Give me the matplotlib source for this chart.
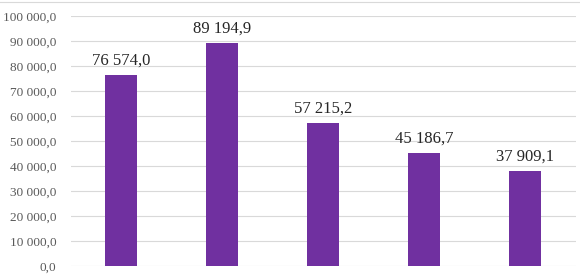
import matplotlib.pyplot as plt
import numpy as np

categories = ['1', '2', '3', '4', '5']
values = [76574.0, 89194.9, 57215.2, 45186.7, 37909.1]
yticks = [0, 10000, 20000, 30000, 40000, 50000, 60000, 70000, 80000, 90000, 100000]


def fmt(v):
    # 76574.0 -> "76 574,0"
    s = '{:,.1f}'.format(v)
    return s.replace(',', ' ').replace('.', ',')


plt.rcParams['font.family'] = ['Liberation Serif', 'DejaVu Serif']

fig = plt.figure(figsize=(5.8, 2.74), dpi=100)
ax = fig.add_axes([70.5 / 580, 8 / 274, 505 / 580, 250 / 274])

x = np.arange(len(categories))
bars = ax.bar(x, values, width=0.31, color='#7030A0', zorder=3)

for b, v in zip(bars, values):
    ax.text(b.get_x() + b.get_width() / 2, v + 2500, fmt(v),
            ha='center', va='bottom', fontsize=12, color='#262626')

ax.set_xlim(-0.5, len(categories) - 0.5)
ax.set_ylim(0, 100000)
ax.set_yticks(yticks)
ax.set_yticklabels([fmt(t) for t in yticks], fontsize=9.5, color='#595959')
ax.set_xticks([])
ax.tick_params(axis='y', length=0, pad=10)
ax.grid(axis='y', color='#d9d9d9', linewidth=0.8, zorder=0)
for s in ax.spines.values():
    s.set_visible(False)

# chart border at top
fig.add_artist(plt.Line2D([0, 1], [1 - 2 / 274, 1 - 2 / 274], color='#d9d9d9', linewidth=0.8))

fig.savefig('out.png', dpi=100)
